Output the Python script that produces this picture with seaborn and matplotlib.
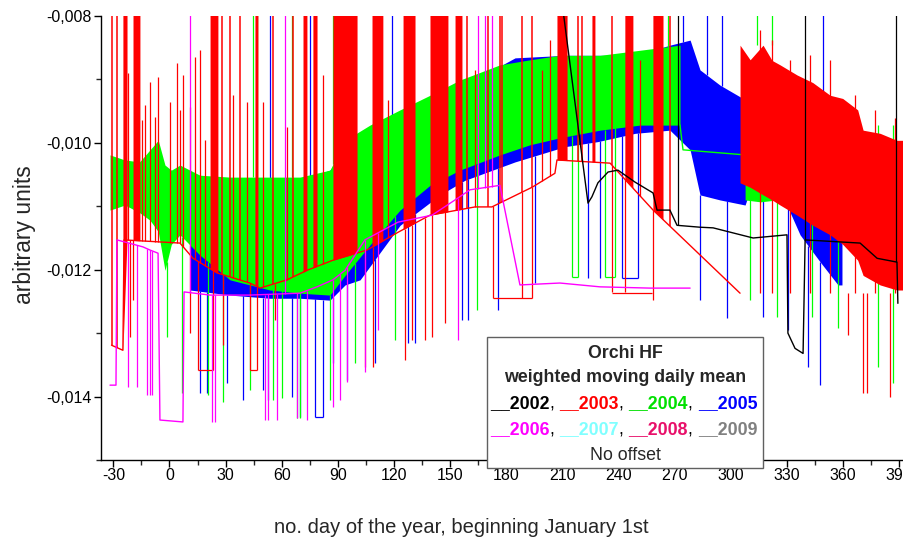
import numpy as np
import matplotlib
matplotlib.use("Agg")
import matplotlib.pyplot as plt
import seaborn as sns
from matplotlib.ticker import MultipleLocator, FuncFormatter
from matplotlib.patches import Rectangle

# all values in units of 1e-3 (arbitrary units), x = day of the year
S = 1e-3
TOP = -7.9  # spikes that run off the top of the plot

# 2004 (green) dense daily oscillation: envelope
g_band_day = [-31.8, -23.8, -16.0, -10.4, -6.0, -2.4, 1.0, 5.6, 16.3, 32.4, 53.7, 69.8, 85.8, 93.9, 107.2,
              123.3, 139.3, 155.3, 176.7, 192.8, 208.8, 230.2, 251.6, 273.0]
g_band_hi = [-10.19, -10.27, -10.30, -10.11, -9.96, -10.35, -10.43, -10.35, -10.51, -10.54, -10.54, -10.54, -10.43,
             -9.96, -9.72, -9.48, -9.25, -9.01, -8.77, -8.69, -8.62, -8.62, -8.54, -8.46]
g_band_lo = [-11.06, -10.98, -11.10, -11.22, -11.40, -12.01, -11.60, -11.45, -11.77, -12.16, -12.32, -12.37, -12.40,
             -12.09, -11.61, -11.06, -10.67, -10.43, -10.19, -10.03, -9.92, -9.80, -9.72, -9.72]
g_line_day = [273.0, 274.6, 307.8]
g_line_val = [-9.72, -10.11, -10.19]
g_bump_day = [307.8, 316.0, 324.9]
g_bump_hi = [-10.62, -10.70, -10.72]
g_bump_lo = [-10.90, -10.93, -10.90]
g_dn_day = [-1.3, 6.7, 20.6, 28.6, 43.0, 55.3, 60.2, 68.2, 69.8, 85.8, 99.2, 120.6, 164.4,
            215.2, 218.4, 232.9, 238.2, 310.5, 324.9, 343.7, 357.5, 378.9, 386.9]
g_dn_low = [-13.06, -13.95, -13.98, -14.09, -13.90, -14.06, -14.03, -14.34, -14.34, -14.06, -13.47, -13.11, -12.64,
            -12.12, -12.12, -12.12, -12.12, -12.48, -12.75, -12.75, -12.92, -13.54, -13.79]
g_up_day = [44.7, 46.8, 65.5, 87.4, 266.6, 314.2, 322.2]

# 2005 (blue)
b_band_day = [11.0, 32.4, 53.7, 69.8, 85.8, 93.9, 101.9, 123.3, 144.7, 158.0, 184.8, 211.5, 229.1,
              249.0, 267.6, 278.4, 283.7, 294.4, 307.8, 315.8, 326.5, 337.2, 348.0, 357.5, 359.6]
b_band_hi = [-10.59, -10.59, -10.67, -10.59, -10.43, -10.11, -9.96, -9.56, -9.25, -9.09, -8.66, -8.62, -8.62,
             -8.62, -8.46, -8.38, -8.85, -9.09, -9.32, -9.48, -10.11, -10.74, -10.90, -11.06, -11.45]
b_band_lo = [-12.32, -12.40, -12.45, -12.45, -12.48, -12.24, -12.16, -11.30, -10.82, -10.59, -10.30, -10.06, -9.98,
             -9.85, -9.80, -10.11, -10.82, -10.90, -10.98, -10.27, -10.74, -11.45, -11.88, -12.24, -12.24]
b_dn_day = [16.3, 20.1, 30.7, 39.3, 50.0, 52.7, 65.5, 69.8, 77.8, 82.1, 87.4, 94.9, 109.9, 127.5, 131.3,
            156.4, 159.6, 175.7, 195.5, 223.8, 230.2, 242.0, 250.6, 283.7, 298.1, 317.4, 330.7, 341.6, 348.0]
b_dn_low = [-13.95, -13.95, -13.79, -14.06, -13.90, -14.06, -14.01, -14.32, -14.32, -14.32, -13.47, -13.74, -13.47,
            -13.16, -13.16, -12.79, -12.79, -12.64, -12.21, -12.13, -12.13, -12.13, -12.13, -12.48, -12.76,
            -12.75, -12.95, -13.54, -13.82]
b_up_day = [53.7, 75.1, 119.0, 274.6, 287.5, 295.5, 349.6]

# 2003 (red)
r_line_day = [-31.0, -24.9, -24.3, 5.6, 12.6, 25.4, 43.0, 48.4, 62.8, 73.5, 87.4, 105.6, 122.2,
              139.3, 163.4, 172.4, 193.9, 206.1, 207.2, 235.6, 258.6, 305.1]
r_line_val = [-13.19, -13.27, -11.53, -11.58, -11.82, -12.05, -12.21, -12.29, -12.16, -12.01, -11.85, -11.69, -11.41,
              -11.14, -11.01, -11.01, -10.70, -10.48, -10.27, -10.32, -11.06, -12.37]
r_band_day = [305.1, 310.5, 317.4, 322.2, 326.5, 335.6, 344.0, 353.3, 360.0, 368.0, 370.9, 380.0, 389.0, 399.0]
r_band_hi = [-8.46, -8.69, -8.46, -8.70, -8.77, -8.93, -9.05, -9.25, -9.30, -9.48, -9.80, -9.85, -9.96, -9.96]
r_band_lo = [-10.63, -10.70, -10.82, -10.90, -10.98, -11.14, -11.30, -11.45, -11.60, -11.85, -12.09, -12.24,
             -12.32, -12.32]
r_clu_start = [-24.9, -19.5, 21.7, 45.7, 71.4, 76.7, 87.4, 108.3, 124.9, 139.3, 152.7, 207.2, 225.9, 243.5, 258.5]
r_clu_end = [-22.7, -15.8, 25.9, 47.3, 73.5, 78.9, 100.3, 114.1, 131.3, 148.9, 156.4, 212.6, 227.5, 247.8, 263.9]
r_top_day = [-30.7, -28.1, 28.1, 32.4, 37.7, 55.3, 66.0, 159.1, 170.3, 176.7, 177.8, 188.5, 193.9,
             218.4, 220.6, 236.6, 267.6]
r_sp_day = [-23.8, -22.2, -14.7, -13.1, -10.4, -7.8, -6.1, 0.3, 4.0, 5.6, 7.2, 11.0, 13.6, 16.3, 19.0,
            34.0, 41.4, 50.0, 62.8, 82.1, 116.8, 163.4, 199.2, 203.5, 251.6, 315.8, 322.2, 331.8, 342.6,
            353.3, 366.6, 377.3, 388.0]
r_sp_tip = [-9.75, -8.90, -9.64, -9.40, -9.04, -9.59, -8.96, -9.36, -8.74, -9.48, -8.93, -9.44, -8.65, -8.54, -9.96,
            -9.25, -9.36, -9.36, -9.75, -8.93, -9.32, -8.85, -8.85, -8.38, -8.69, -8.22, -8.38, -8.69, -8.62,
            -8.69, -9.25, -9.48, -9.61]
r_dn_day = [-21.1, -19.5, 11.0, 15.2, 23.3, 28.6, 43.0, 46.8, 56.4, 104.5, 108.8, 125.9, 129.7, 136.6, 140.4,
            147.3, 173.0, 188.5, 193.9, 236.6, 243.6, 258.6, 362.8, 370.9, 373.0, 385.3]
r_dn_low = [-13.06, -12.48, -13.00, -13.58, -13.58, -13.19, -13.58, -13.58, -12.79, -13.54, -13.54, -13.43, -13.11,
            -13.11, -13.06, -12.84, -12.45, -12.45, -12.45, -12.35, -12.35, -12.48, -13.03, -13.95, -13.95, -14.01]
r_box_start = [15.2, 43.0, 173.0, 236.6]
r_box_end = [23.3, 46.8, 193.9, 258.0]
r_box_low = [-13.58, -13.58, -12.45, -12.37]

# 2006 (magenta)
m_line_day = [-31.8, -28.6, -28.1, -14.2, -10.4, -6.1, -5.1, 7.2, 7.8, 21.7, 43.0, 69.8, 78.9, 87.4, 93.9,
              104.5, 122.2, 140.4, 152.7, 160.7, 176.7, 187.4, 208.8, 230.2, 257.0, 278.4]
m_line_val = [-13.82, -13.82, -11.53, -11.64, -11.69, -11.74, -14.37, -14.40, -12.35, -12.40, -12.40, -12.37, -12.27,
              -12.16, -12.01, -11.53, -11.25, -11.14, -10.90, -10.74, -10.67, -12.24, -12.21, -12.27, -12.29, -12.29]
m_dn_day = [-22.2, -17.4, -12.0, -10.4, -9.4, 22.8, 24.3, 51.1, 52.7, 57.5, 68.2, 73.5, 87.4, 91.2, 94.9,
            104.5, 111.5, 154.3]
m_dn_low = [-13.85, -13.85, -13.98, -13.98, -13.98, -14.40, -14.40, -14.37, -14.37, -14.37, -14.34, -14.37, -14.17,
            -14.06, -13.77, -13.62, -12.95, -13.11]
m_up_day = [11.0, 61.8, 165.0, 168.7, 172.4]

# 2002 (black)
k_line_day = [210.4, 223.8, 225.9, 229.1, 234.5, 239.8, 249.0, 258.6, 260.7, 267.6, 271.4, 283.7, 290.7,
              312.1, 330.2, 330.7, 334.5, 338.8, 339.9, 369.3, 378.4, 389.0, 389.5]
k_line_val = [-7.9, -10.95, -10.85, -10.63, -10.46, -10.43, -10.62, -10.79, -11.06, -11.06, -11.30, -11.33, -11.34,
              -11.50, -11.45, -13.00, -13.24, -13.32, -11.53, -11.58, -11.82, -11.88, -12.53]
k_up_day = [271.9, 339.9, 388.5]

years = ["2002", "2003", "2004", "2005", "2006", "2007", "2008", "2009"]
year_colors = ["#000000", "#ff0000", "#00e000", "#0000ff", "#ff00ff", "#80ffff", "#e8106a", "#808080"]

GREEN, BLUE, RED, MAG = "#00ff00", "#0000ff", "#ff0000", "#ff00ff"

sns.set_style("ticks")
plt.rcParams["font.family"] = ["Liberation Sans", "DejaVu Sans"]

fig = plt.figure(figsize=(9.04, 5.41), dpi=100)
ax = fig.add_axes([101.4 / 904, 1 - 460 / 541, 815 / 904, 444 / 541])


def arr(v):
    return np.asarray(v, dtype=float) * S


def spikes(days, tips, base_day, base_val, color, z, lw=0.9):
    base = np.interp(days, base_day, base_val)
    ax.vlines(days, arr(base), arr(tips), colors=color, lw=lw, zorder=z)


# blue band and spikes
ax.fill_between(b_band_day, arr(b_band_lo), arr(b_band_hi), color=BLUE, lw=0, zorder=1)
spikes(b_dn_day, b_dn_low, b_band_day, b_band_lo, BLUE, 1.5)
spikes(b_up_day, [TOP] * len(b_up_day), b_band_day, b_band_hi, BLUE, 1.5)
ax.hlines(arr([-14.32, -12.13]), [77.8, 242.0], [82.1, 250.6], colors=BLUE, lw=0.9, zorder=1.5)

# green band and spikes
ax.fill_between(g_band_day, arr(g_band_lo), arr(g_band_hi), color=GREEN, lw=0, zorder=2)
ax.fill_between(g_bump_day, arr(g_bump_lo), arr(g_bump_hi), color=GREEN, lw=0, zorder=2)
sns.lineplot(x=g_line_day, y=arr(g_line_val), color=GREEN, lw=1.0, sort=False, estimator=None, ax=ax, zorder=2)
spikes(g_dn_day, g_dn_low, g_band_day, g_band_lo, GREEN, 2.5)
spikes(g_up_day, [TOP] * len(g_up_day), g_band_day, g_band_hi, GREEN, 2.5)
ax.hlines(arr([-12.12, -12.12]), [215.2, 232.9], [218.4, 238.2], colors=GREEN, lw=0.9, zorder=2.5)

# red
ax.fill_between(r_band_day, arr(r_band_lo), arr(r_band_hi), color=RED, lw=0, zorder=4)
for s0, s1 in zip(r_clu_start, r_clu_end):
    base = np.interp([s0, s1], r_line_day, r_line_val)
    ax.fill_between([s0, s1], arr(base), TOP * S, color=RED, lw=0, zorder=4)
spikes(r_top_day, [TOP] * len(r_top_day), r_line_day, r_line_val, RED, 4, lw=1.1)
spikes(r_sp_day, r_sp_tip, r_line_day, r_line_val, RED, 4)
spikes(r_dn_day, r_dn_low, r_line_day, r_line_val, RED, 4)
ax.hlines(arr(r_box_low), r_box_start, r_box_end, colors=RED, lw=0.9, zorder=4)
sns.lineplot(x=r_line_day, y=arr(r_line_val), color=RED, lw=1.0, sort=False, estimator=None, ax=ax, zorder=4)

# magenta
sns.lineplot(x=m_line_day, y=arr(m_line_val), color=MAG, lw=1.0, sort=False, estimator=None, ax=ax, zorder=5)
spikes(m_dn_day, m_dn_low, m_line_day, m_line_val, MAG, 5)
spikes(m_up_day, [TOP] * len(m_up_day), m_line_day, m_line_val, MAG, 5)

# black
sns.lineplot(x=k_line_day, y=arr(k_line_val), color="black", lw=1.0, sort=False, estimator=None, ax=ax, zorder=6)
spikes(k_up_day, [TOP] * len(k_up_day), k_line_day, k_line_val, "black", 6)

ax.set_xlim(-36.4, 399.4)
ax.set_ylim(-15 * S, -8 * S)

ax.xaxis.set_major_locator(MultipleLocator(30))
ax.xaxis.set_minor_locator(MultipleLocator(15))
ax.yaxis.set_major_locator(MultipleLocator(2 * S))
ax.yaxis.set_minor_locator(MultipleLocator(1 * S))
ax.xaxis.set_major_formatter(FuncFormatter(lambda v, p: f"{v:.0f}"))
ax.yaxis.set_major_formatter(FuncFormatter(lambda v, p: f"{v:.3f}".replace(".", ",")))
ax.tick_params(which="major", direction="out", length=5, width=1, labelsize=11.5, colors="black")
ax.tick_params(which="minor", direction="out", length=3.5, width=1)
ax.tick_params(axis="x", which="major", pad=1)
ax.tick_params(axis="y", which="major", pad=2)

sns.despine(ax=ax, top=True, right=True)
for sp in ("left", "bottom"):
    ax.spines[sp].set_color("black")
    ax.spines[sp].set_linewidth(1.0)

ax.set_xlabel("no. day of the year, beginning January 1st", fontsize=14.5)
ax.set_ylabel("arbitrary units", fontsize=16.5)
ax.xaxis.set_label_coords((461 - 101.4) / 815, -(518 - 460) / 444)
ax.yaxis.set_label_coords(-(101.4 - 36) / 815, (460 - 235) / 444)

# legend box with coloured year list
box = Rectangle((487 / 904, 1 - 468 / 541), 276 / 904, 131 / 541, transform=fig.transFigure,
                facecolor="white", edgecolor="#606060", lw=1, zorder=20, clip_on=False)
ax.add_patch(box)
cx = 625 / 904
fs = 12.8
ax.text(cx, 1 - 353 / 541, "Orchi HF", transform=fig.transFigure, ha="center", va="center",
        fontsize=fs, fontweight="bold", zorder=21)
ax.text(cx, 1 - 378 / 541, "weighted moving daily mean", transform=fig.transFigure, ha="center", va="center",
        fontsize=fs, fontweight="bold", zorder=21)
ax.text(cx, 1 - 455 / 541, "No offset", transform=fig.transFigure, ha="center", va="center",
        fontsize=fs, zorder=21)

for row, ypx in ((0, 404), (1, 430)):
    prev = None
    for i in range(4):
        k = row * 4 + i
        label = "__" + years[k]
        if prev is None:
            prev = ax.text(490 / 904, 1 - ypx / 541, label, transform=fig.transFigure, ha="left", va="center",
                           fontsize=fs, fontweight="bold", color=year_colors[k], zorder=21)
        else:
            prev = ax.annotate(label, xy=(1, 0), xycoords=prev, ha="left", va="bottom",
                               fontsize=fs, fontweight="bold", color=year_colors[k], zorder=21)
        if i < 3:
            prev = ax.annotate(", ", xy=(1, 0), xycoords=prev, ha="left", va="bottom",
                               fontsize=fs, color="black", zorder=21)

fig.savefig("out.png", dpi=100)
